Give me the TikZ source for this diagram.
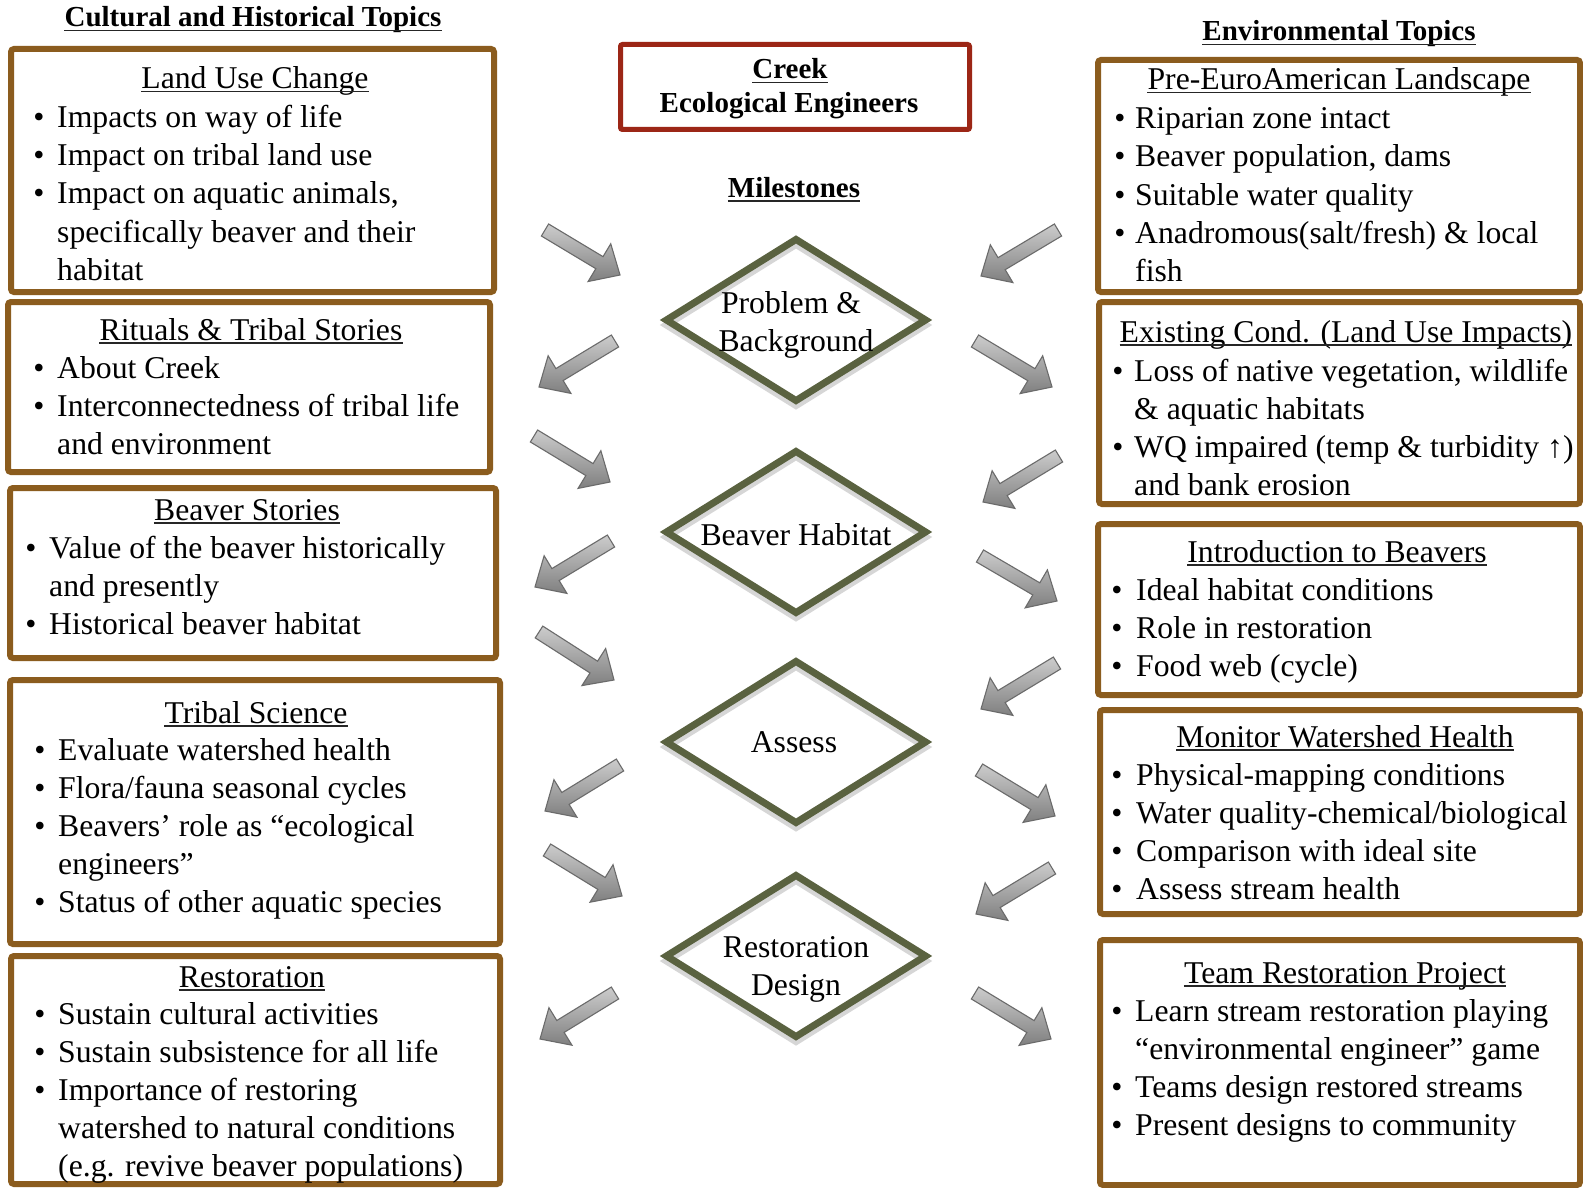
\documentclass[tikz,border=0pt]{standalone}
\usepackage{fontspec}
\setmainfont{Liberation Serif}
\usetikzlibrary{shapes.geometric,calc}
\definecolor{boxbrown}{RGB}{139,92,30}
\definecolor{titlered}{RGB}{156,38,22}
\definecolor{diagreen}{RGB}{90,98,64}
\newcommand{\bitem}[5]{\node[bul] (#1b) at (#2,#4) {•}; \node[body] (#1) at (#3,#4) {#5};}
\newcommand{\citem}[4]{\node[body] (#1) at (#2,#3) {#4};}
\newcommand{\ttlnode}[4]{\node[ttl] (#1) at (#2,#3) {#4};
  \draw[uline] ([yshift=-2.8pt]#1.base west) -- ([yshift=-2.8pt]#1.base east);}
\newcommand{\headnode}[4]{\node[head] (#1) at (#2,#3) {#4};
  \draw[uline] ([yshift=-3.8pt]#1.base west) -- ([yshift=-3.8pt]#1.base east);}
\newcommand{\blockarrow}[3]{%
  \coordinate (#1-t) at #2; \coordinate (#1-h) at #3;
  \coordinate (#1-n) at ($(#1-h)!24pt!(#1-t)$);
  \shade[barrow] ($(#1-t)!7pt!90:(#1-h)$) -- ($(#1-n)!7pt!90:(#1-h)$) -- ($(#1-n)!22pt!90:(#1-h)$) -- (#1-h) -- ($(#1-n)!22pt!-90:(#1-h)$) -- ($(#1-n)!7pt!-90:(#1-h)$) -- ($(#1-t)!7pt!-90:(#1-h)$) -- cycle;}
\begin{document}
\begin{tikzpicture}[x=1pt,y=-1pt,
  body/.style={font=\fontsize{31.7}{38}\selectfont, inner sep=0pt, anchor=base west},
  bul/.style={font=\fontsize{31.7}{38}\selectfont, inner sep=0pt, anchor=base},
  ttl/.style={font=\fontsize{31.7}{38}\selectfont, inner sep=0pt, anchor=base},
  head/.style={font=\fontsize{29}{34}\selectfont\bfseries, inner sep=0pt, anchor=base},
  uline/.style={line width=1.4pt, black!85},
  topicbox/.style={draw=boxbrown, line width=6pt, rounded corners=3pt, inner sep=0pt},
  titlebox/.style={draw=titlered, line width=5pt, rounded corners=2pt, inner sep=0pt},
  milestone/.style={diamond, draw=diagreen, line width=7pt, inner sep=0pt, minimum width=262pt, minimum height=164pt},
  mshadow/.style={diamond, draw=black!16, line width=7pt, inner sep=0pt, minimum width=262pt, minimum height=164pt},
  barrow/.style={top color=black!20, bottom color=black!50, draw=black!58, line width=1.1pt, line join=miter}
]
\fill[white] (0,0) rectangle (1583,1188);
\useasboundingbox (0,0) rectangle (1583,1188);

% headings
\headnode{hcult}{253}{27}{Cultural and Historical Topics}
\headnode{henv}{1339}{41}{Environmental Topics}
\node[titlebox, minimum width=349pt, minimum height=85pt] (tbox) at (795,87) {};
\headnode{hcreek}{790}{79}{Creek}
\node[head] (heco) at (789,113) {Ecological Engineers};
\headnode{hmile}{794}{197}{Milestones}

% left boxes
\node[topicbox, minimum width=483pt, minimum height=243pt] (L1) at (252.5,170.5) {};
\node[topicbox, minimum width=482pt, minimum height=170pt] (L2) at (249,387) {};
\node[topicbox, minimum width=486pt, minimum height=170pt] (L3) at (253,573) {};
\node[topicbox, minimum width=490pt, minimum height=264pt] (L4) at (255,812) {};
\node[topicbox, minimum width=489pt, minimum height=228pt] (L5) at (255.5,1070) {};
% right boxes
\node[topicbox, minimum width=482pt, minimum height=232pt] (R1) at (1339,176) {};
\node[topicbox, minimum width=481pt, minimum height=202pt] (R2) at (1339.5,403) {};
\node[topicbox, minimum width=482pt, minimum height=171pt] (R3) at (1339,609.5) {};
\node[topicbox, minimum width=480pt, minimum height=204pt] (R4) at (1340,812) {};
\node[topicbox, minimum width=480pt, minimum height=245pt] (R5) at (1340,1062.5) {};

% L1
\ttlnode{L1t}{255}{89}{Land Use Change}
\bitem{L1a}{39}{57}{128}{Impacts on way of life}
\bitem{L1b}{39}{57}{166}{Impact on tribal land use}
\bitem{L1c}{39}{57}{204}{Impact on aquatic animals,}
\citem{L1d}{57}{242}{specifically beaver and their}
\citem{L1e}{57}{280}{habitat}
% L2
\ttlnode{L2t}{251}{340}{Rituals \& Tribal Stories}
\bitem{L2a}{39}{57}{378}{About Creek}
\bitem{L2b}{39}{57}{416}{Interconnectedness of tribal life}
\citem{L2c}{57}{454}{and environment}
% L3
\ttlnode{L3t}{247}{520}{Beaver Stories}
\bitem{L3a}{31}{49}{558}{Value of the beaver historically}
\citem{L3b}{49}{596}{and presently}
\bitem{L3c}{31}{49}{634}{Historical beaver habitat}
% L4
\ttlnode{L4t}{256}{723}{Tribal Science}
\bitem{L4a}{40}{58}{760}{Evaluate watershed health}
\bitem{L4b}{40}{58}{798}{Flora/fauna seasonal cycles}
\bitem{L4c}{40}{58}{836}{Beavers’ role as “ecological}
\citem{L4d}{58}{874}{engineers”}
\bitem{L4e}{40}{58}{912}{Status of other aquatic species}
% L5
\ttlnode{L5t}{252}{987}{Restoration}
\bitem{L5a}{40}{58}{1024}{Sustain cultural activities}
\bitem{L5b}{40}{58}{1062}{Sustain subsistence for all life}
\bitem{L5c}{40}{58}{1100}{Importance of restoring}
\citem{L5d}{58}{1138}{watershed to natural conditions}
\citem{L5e}{58}{1176}{(e.g. revive beaver populations)}

% R1
\ttlnode{R1t}{1339}{90}{Pre-EuroAmerican Landscape}
\bitem{R1a}{1120}{1135}{129}{Riparian zone intact}
\bitem{R1b}{1120}{1135}{167}{Beaver population, dams}
\bitem{R1c}{1120}{1135}{205}{Suitable water quality}
\bitem{R1d}{1120}{1135}{243}{Anadromous(salt/fresh) \& local}
\citem{R1e}{1135}{281}{fish}
% R2
\ttlnode{R2t}{1346}{342}{Existing Cond. (Land Use Impacts)}
\bitem{R2a}{1118}{1134}{381}{Loss of native vegetation, wildlife}
\citem{R2b}{1134}{419}{\& aquatic habitats}
\bitem{R2c}{1118}{1134}{457}{WQ impaired (temp \& turbidity ↑)}
\citem{R2d}{1134}{495}{and bank erosion}
% R3
\ttlnode{R3t}{1337}{562}{Introduction to Beavers}
\bitem{R3a}{1117}{1136}{600}{Ideal habitat conditions}
\bitem{R3b}{1117}{1136}{638}{Role in restoration}
\bitem{R3c}{1117}{1136}{676}{Food web (cycle)}
% R4
\ttlnode{R4t}{1345}{747}{Monitor Watershed Health}
\bitem{R4a}{1117}{1136}{785}{Physical-mapping conditions}
\bitem{R4b}{1117}{1136}{823}{Water quality-chemical/biological}
\bitem{R4c}{1117}{1136}{861}{Comparison with ideal site}
\bitem{R4d}{1117}{1136}{899}{Assess stream health}
% R5
\ttlnode{R5t}{1345}{983}{Team Restoration Project}
\bitem{R5a}{1117}{1135}{1021}{Learn stream restoration playing}
\citem{R5b}{1135}{1059}{“environmental engineer” game}
\bitem{R5c}{1117}{1135}{1097}{Teams design restored streams}
\bitem{R5d}{1117}{1135}{1135}{Present designs to community}

% milestones
\node[mshadow] (d1s) at (796,325) {};
\node[mshadow] (d2s) at (796,537) {};
\node[mshadow] (d3s) at (796,747) {};
\node[mshadow] (d4s) at (796,961) {};
\node[milestone] (d1) at (796,320) {};
\node[milestone] (d2) at (796,532) {};
\node[milestone] (d3) at (796,742) {};
\node[milestone] (d4) at (796,956) {};
\node[ttl] (d1a) at (791,313) {Problem \&};
\node[ttl] (d1b) at (796,351) {Background};
\node[ttl] (d2a) at (796,545) {Beaver Habitat};
\node[ttl] (d3a) at (794,752) {Assess};
\node[ttl] (d4a) at (796,957) {Restoration};
\node[ttl] (d4b) at (796,995) {Design};

% block arrows
\blockarrow{A1}{(545,230)}{(620,275)}
\blockarrow{A2}{(615,341)}{(539,387)}
\blockarrow{A3}{(534,436)}{(610,482)}
\blockarrow{A4}{(611,541)}{(535,587)}
\blockarrow{A5}{(539,632)}{(614,680)}
\blockarrow{A6}{(620,765)}{(545,811)}
\blockarrow{A7}{(547,850)}{(622,896)}
\blockarrow{A8}{(615,993)}{(540,1039)}
\blockarrow{B1}{(1058,230)}{(981,276)}
\blockarrow{B2}{(975,341)}{(1052,387)}
\blockarrow{B3}{(1059,456)}{(983,502)}
\blockarrow{B4}{(980,556)}{(1057,601)}
\blockarrow{B5}{(1057,663)}{(981,709)}
\blockarrow{B6}{(979,770)}{(1055,816)}
\blockarrow{B7}{(1052,868)}{(976,914)}
\blockarrow{B8}{(975,993)}{(1051,1039)}
\end{tikzpicture}
\end{document}
